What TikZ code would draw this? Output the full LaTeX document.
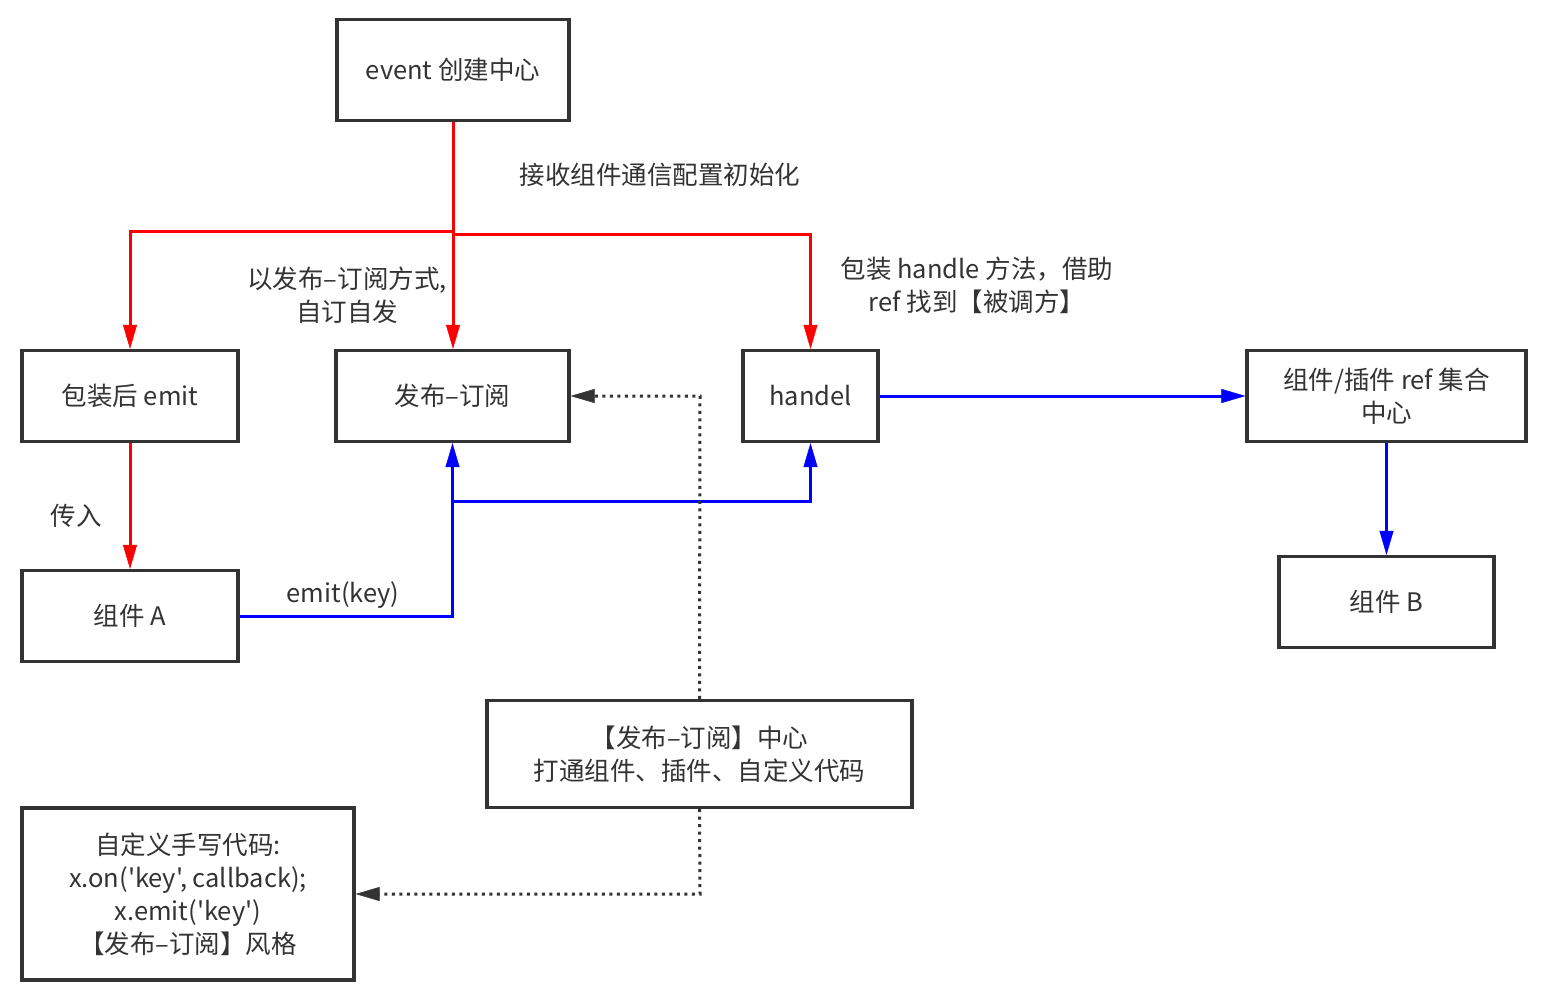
\documentclass[tikz,border=0pt]{standalone}
\usepackage{fontspec}
\setmainfont{Noto Sans CJK SC}[Ligatures=TeXOff]
\usetikzlibrary{arrows.meta}
\definecolor{boxc}{HTML}{333333}
\definecolor{redc}{HTML}{FF0000}
\definecolor{bluec}{HTML}{0000FF}
\begin{document}
\begin{tikzpicture}[x=1pt,y=-1pt,
  txt/.style={font=\fontsize{25.5}{33}\selectfont, text=boxc, align=center, inner sep=0pt},
  box/.style={txt, draw=boxc, line width=3.2pt},
  redarr/.style={draw=redc, line width=3pt, -{Triangle[length=24pt,width=14pt,line width=0.5pt]}},
  bluearr/.style={draw=bluec, line width=3pt, -{Triangle[length=24pt,width=14pt,line width=0.5pt]}},
  dotarr/.style={draw=boxc, line width=3pt, dash pattern=on 3pt off 4.5pt, -{Triangle[length=24pt,width=14pt,line width=0.5pt]}}
]
\useasboundingbox (0,0) rectangle (1544,998);

\node[box, minimum width=232pt, minimum height=101pt] (event) at (453,70) {event 创建中心};
\node[box, minimum width=216pt, minimum height=91pt] (emitw) at (130,396) {包装后 emit};
\node[box, minimum width=233pt, minimum height=91pt] (pubsub) at (452.5,396) {发布–订阅};
\node[box, minimum width=135pt, minimum height=91pt] (handel) at (810.5,396) {handel};
\node[box, minimum width=279pt, minimum height=91pt] (refc) at (1386.5,396) {组件/插件 ref 集合\\中心};
\node[box, minimum width=215pt, minimum height=91pt] (compB) at (1386.5,602) {组件 B};
\node[box, minimum width=216pt, minimum height=91pt] (compA) at (130,616) {组件 A};
\node[box, minimum width=425pt, minimum height=107pt] (center) at (699.5,754) {【发布–订阅】中心\\打通组件、插件、自定义代码};
\node[box, minimum width=332pt, minimum height=172pt] (custom) at (188,894) {自定义手写代码:\\x.on('key', callback);\\x.emit('key')\\【发布–订阅】风格};

% labels
\node[txt] (l1) at (660,175) {接收组件通信配置初始化};
\node[txt] (l2) at (347,295) {以发布–订阅方式,\\自订自发};
\node[txt] (l3) at (977,285) {包装 handle 方法，借助\\ref 找到【被调方】};
\node[txt] (l4) at (76,516) {传入};
\node[txt] (l5) at (343,595) {emit(key)};

% red connectors
\coordinate (j1) at (453,231);
\coordinate (j2) at (453,234);
\draw[redarr] (event.south) -- (j1) -| (emitw.north);
\draw[redarr] (event.south) -- (event.south |- pubsub.north);
\draw[redarr] (event.south) -- (j2) -| (handel.north);
\draw[redarr] (emitw.south) -- (compA.north);

% blue connectors
\coordinate (j3) at (452.5,501);
\draw[bluearr] (compA.east) -| (pubsub.south);
\draw[bluearr] (j3) -| (handel.south);
\draw[bluearr] (handel.east) -- (refc.west);
\draw[bluearr] (refc.south) -- (compB.north);

% dotted connectors
\coordinate (d1) at (700,396);
\coordinate (d2) at (700,894);
\draw[dotarr] (center.north) -- (d1) -- (pubsub.east);
\draw[dotarr] (center.south) -- (d2) -- (custom.east);
\end{tikzpicture}
\end{document}
